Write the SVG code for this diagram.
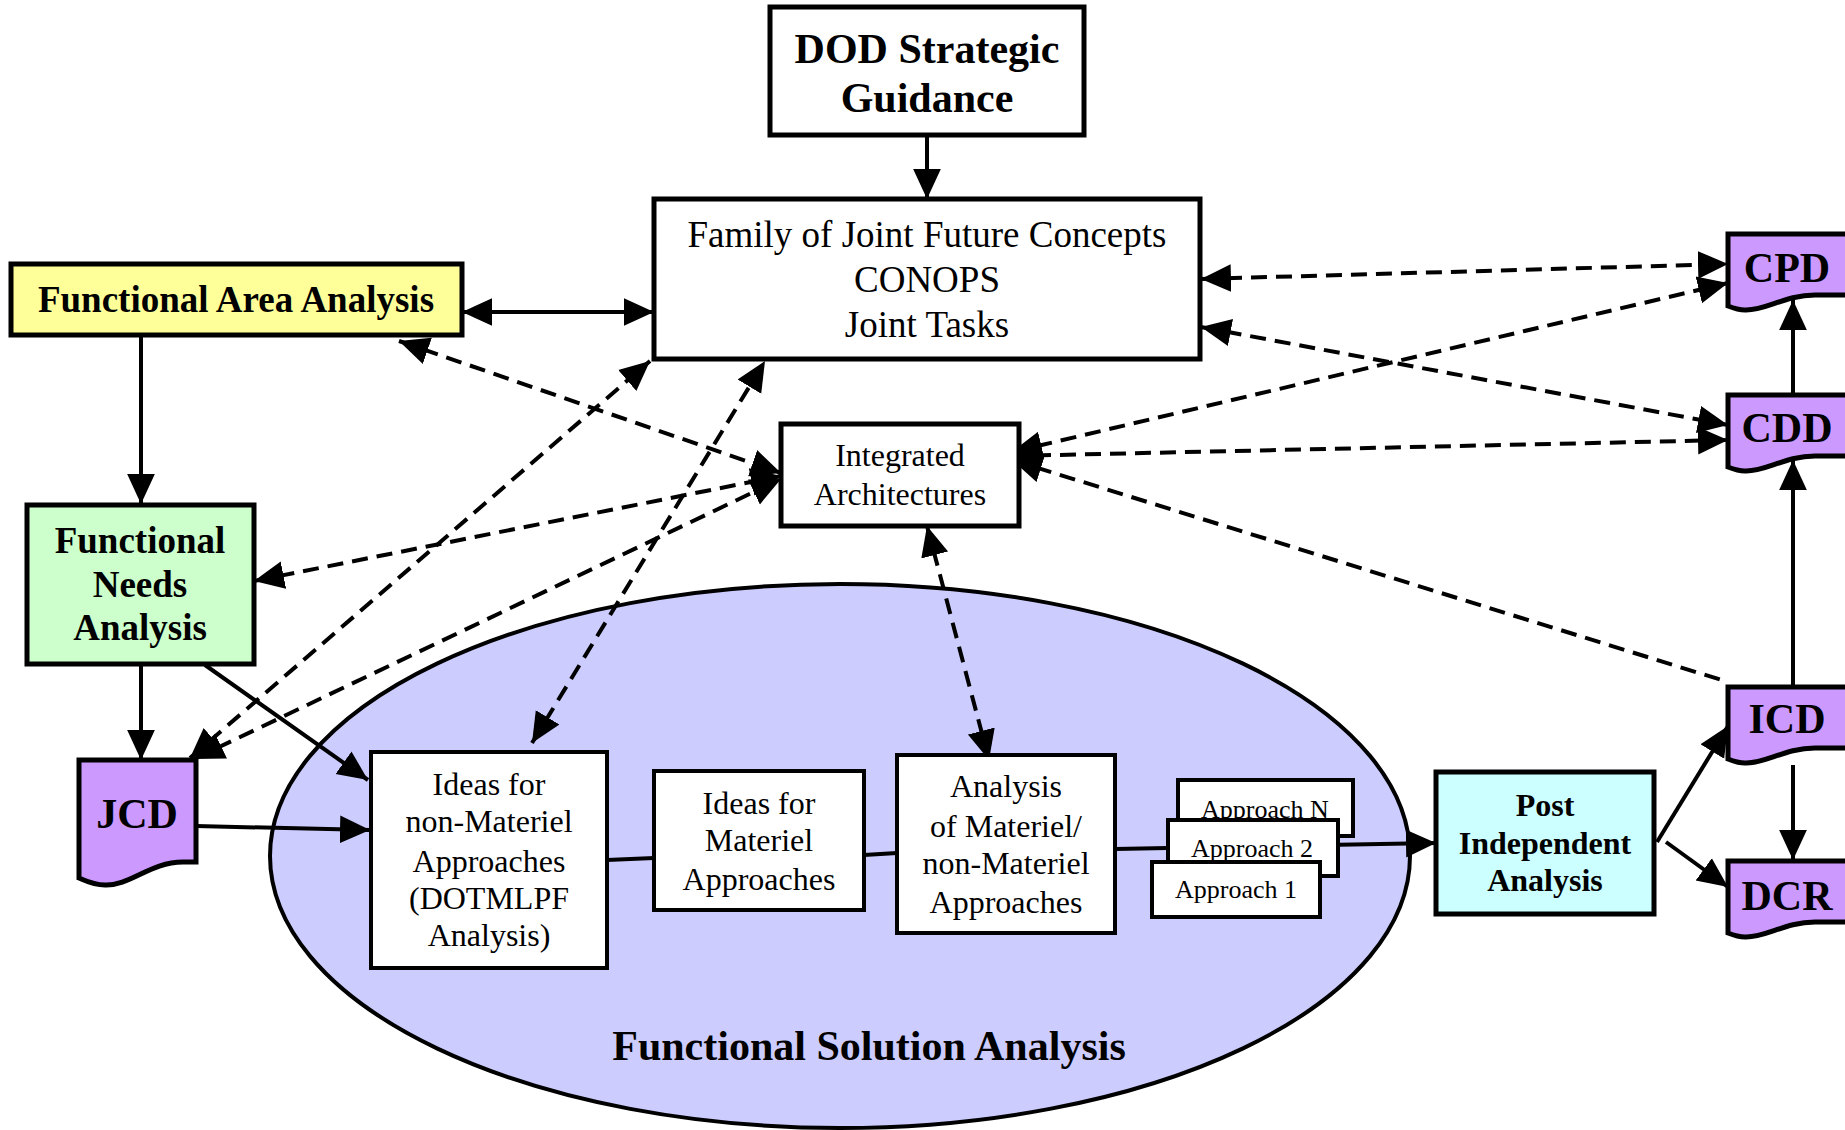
<svg xmlns="http://www.w3.org/2000/svg" width="1845" height="1130" viewBox="0 0 1845 1130">
<style>
.box{stroke:#000;stroke-width:5;}
.ibox{fill:#fff;stroke:#000;stroke-width:4;}
.t{font-family:"Liberation Serif","Times New Roman",serif;fill:#000;text-anchor:middle;}
.b{font-weight:bold;}
.c{fill:none;stroke:#000;stroke-width:4;}
.d{fill:none;stroke:#000;stroke-width:4;stroke-dasharray:16 9;}
</style>
<defs>
<marker id="a" markerUnits="userSpaceOnUse" markerWidth="30" markerHeight="30" viewBox="0 0 26 24" refX="26" refY="12" orient="auto-start-reverse">
<path d="M0,0 L26,12 L0,24 Z" fill="#000"/>
</marker>
</defs>
<rect width="1845" height="1130" fill="#fff"/>

<g id="fsa">
<ellipse cx="840" cy="856" rx="570" ry="272" fill="#CCCCFF" stroke="#000" stroke-width="4"/>
<text class="t b" x="869" y="1060" font-size="42">Functional Solution Analysis</text>
</g>

<g id="connectors">
<path class="c" d="M927,135 L927,199" marker-end="url(#a)"/>
<path class="c" d="M462,312 L654,312" marker-start="url(#a)" marker-end="url(#a)"/>
<path class="c" d="M141,334 L141,504" marker-end="url(#a)"/>
<path class="c" d="M141,665 L141,760" marker-end="url(#a)"/>
<path class="c" d="M205,665 L368,780" marker-end="url(#a)"/>
<path class="c" d="M196,826 L370,830" marker-end="url(#a)"/>
<path class="c" d="M607,860 L654,858"/>
<path class="c" d="M864,855 L897,853"/>
<path class="c" d="M1115,849 L1436,843" marker-end="url(#a)"/>
<path class="c" d="M1657,842 L1728,726" marker-end="url(#a)"/>
<path class="c" d="M1666,842 L1728,887" marker-end="url(#a)"/>
<path class="c" d="M1793,765 L1793,860" marker-end="url(#a)"/>
<path class="c" d="M1793,686 L1793,460" marker-end="url(#a)"/>
<path class="c" d="M1793,395 L1793,300" marker-end="url(#a)"/>

<path class="d" d="M1201,279 L1728,264" marker-start="url(#a)" marker-end="url(#a)"/>
<path class="d" d="M1201,327 L1728,425" marker-start="url(#a)" marker-end="url(#a)"/>
<path class="d" d="M1012,452 L1728,283" marker-start="url(#a)" marker-end="url(#a)"/>
<path class="d" d="M1010,456 L1728,440" marker-start="url(#a)" marker-end="url(#a)"/>
<path class="d" d="M1012,460 L1728,682" marker-start="url(#a)"/>
<path class="d" d="M399,341 L781,473" marker-start="url(#a)" marker-end="url(#a)"/>
<path class="d" d="M254,581 L781,476" marker-start="url(#a)" marker-end="url(#a)"/>
<path class="d" d="M194,759 L781,479" marker-start="url(#a)" marker-end="url(#a)"/>
<path class="d" d="M190,758 L650,361" marker-start="url(#a)" marker-end="url(#a)"/>
<path class="d" d="M532,743 L765,361" marker-start="url(#a)" marker-end="url(#a)"/>
<path class="d" d="M927,526 L989,760" marker-start="url(#a)" marker-end="url(#a)"/>
</g>

<g id="dod">
<rect class="box" x="770" y="7" width="314" height="128" fill="#fff"/>
<text class="t b" x="927" y="63" font-size="42">DOD Strategic</text>
<text class="t b" x="927" y="112" font-size="42">Guidance</text>
</g>

<g id="family">
<rect class="box" x="654" y="199" width="546" height="160" fill="#fff"/>
<text class="t" x="927" y="247" font-size="37">Family of Joint Future Concepts</text>
<text class="t" x="927" y="292" font-size="37">CONOPS</text>
<text class="t" x="927" y="337" font-size="37">Joint Tasks</text>
</g>

<g id="faa">
<rect class="box" x="11" y="264" width="451" height="71" fill="#FFFF99"/>
<text class="t b" x="236" y="312" font-size="37">Functional Area Analysis</text>
</g>

<g id="ia">
<rect class="box" x="781" y="424" width="238" height="102" fill="#fff"/>
<text class="t" x="900" y="466" font-size="32">Integrated</text>
<text class="t" x="900" y="505" font-size="32">Architectures</text>
</g>

<g id="fna">
<rect class="box" x="27" y="505" width="227" height="159" fill="#CCFFCC"/>
<text class="t b" x="140" y="553" font-size="37">Functional</text>
<text class="t b" x="140" y="597" font-size="37">Needs</text>
<text class="t b" x="140" y="640" font-size="37">Analysis</text>
</g>

<g id="jcd">
<path class="box" d="M79,760 H196 V862 H183 C150,862 130,886 105,885 C93,885 86,881 79,878 Z" fill="#CC99FF"/>
<text class="t b" x="137" y="828" font-size="42">JCD</text>
</g>

<g id="ideas-nonmat">
<rect class="ibox" x="371" y="752" width="236" height="216"/>
<text class="t" x="489" y="795" font-size="32">Ideas for</text>
<text class="t" x="489" y="832" font-size="32">non-Materiel</text>
<text class="t" x="489" y="872" font-size="32">Approaches</text>
<text class="t" x="489" y="909" font-size="32">(DOTMLPF</text>
<text class="t" x="489" y="946" font-size="32">Analysis)</text>
</g>

<g id="ideas-mat">
<rect class="ibox" x="654" y="771" width="210" height="139"/>
<text class="t" x="759" y="814" font-size="32">Ideas for</text>
<text class="t" x="759" y="851" font-size="32">Materiel</text>
<text class="t" x="759" y="890" font-size="32">Approaches</text>
</g>

<g id="analysis">
<rect class="ibox" x="897" y="755" width="218" height="178"/>
<text class="t" x="1006" y="797" font-size="32">Analysis</text>
<text class="t" x="1006" y="837" font-size="32">of Materiel/</text>
<text class="t" x="1006" y="874" font-size="32">non-Materiel</text>
<text class="t" x="1006" y="913" font-size="32">Approaches</text>
</g>

<g id="approach-n">
<rect class="ibox" x="1178" y="780" width="175" height="56" stroke-width="3"/>
<text class="t" x="1265" y="818" font-size="26">Approach N</text>
</g>
<g id="approach-2">
<rect class="ibox" x="1168" y="820" width="170" height="56" stroke-width="3"/>
<text class="t" x="1252" y="857" font-size="26">Approach 2</text>
</g>
<g id="approach-1">
<rect class="ibox" x="1152" y="862" width="168" height="55" stroke-width="3"/>
<text class="t" x="1236" y="898" font-size="26">Approach 1</text>
</g>

<g id="post">
<rect class="box" x="1436" y="772" width="218" height="142" fill="#CCFFFF"/>
<text class="t b" x="1545" y="816" font-size="32">Post</text>
<text class="t b" x="1545" y="854" font-size="32">Independent</text>
<text class="t b" x="1545" y="891" font-size="32">Analysis</text>
</g>

<g id="cpd">
<path class="box" d="M1728,234 H1850 V295 H1815 C1785,295 1765,311 1745,310 C1738,310 1733,308 1728,306 Z" fill="#CC99FF"/>
<text class="t b" x="1787" y="282" font-size="42">CPD</text>
</g>
<g id="cdd">
<path class="box" d="M1728,395 H1850 V456 H1815 C1785,456 1765,472 1745,471 C1738,471 1733,469 1728,467 Z" fill="#CC99FF"/>
<text class="t b" x="1787" y="442" font-size="42">CDD</text>
</g>
<g id="icd">
<path class="box" d="M1728,687 H1850 V748 H1815 C1785,748 1765,764 1745,763 C1738,763 1733,761 1728,759 Z" fill="#CC99FF"/>
<text class="t b" x="1787" y="733" font-size="42">ICD</text>
</g>
<g id="dcr">
<path class="box" d="M1728,861 H1850 V922 H1815 C1785,922 1765,938 1745,937 C1738,937 1733,935 1728,933 Z" fill="#CC99FF"/>
<text class="t b" x="1787" y="910" font-size="42">DCR</text>
</g>
</svg>
